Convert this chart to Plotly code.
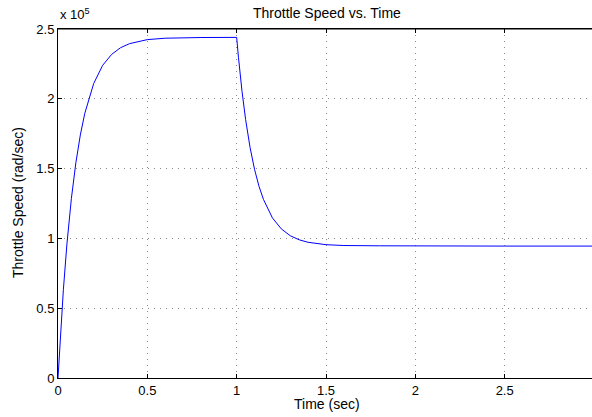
import plotly.graph_objects as go

# Values (time in sec, speed in rad/sec)
time_sec = [0, 0.01, 0.02, 0.03, 0.05, 0.075, 0.1, 0.125, 0.15, 0.2, 0.25, 0.3,
            0.35, 0.4, 0.5, 0.6, 0.8, 1.0,
            1.01, 1.02, 1.03, 1.05, 1.075, 1.1, 1.125, 1.15, 1.2, 1.25, 1.3,
            1.35, 1.4, 1.5, 1.6, 1.8, 2.0, 2.5, 3.0]
speed = [0, 23200, 44200, 63200, 96000, 128700, 154200, 174100, 189600, 211000,
         224000, 231800, 236600, 239500, 242400, 243400, 243900, 244000,
         229800, 216900, 205300, 185200, 165100, 149500, 137300, 127900, 114700,
         106800, 101900, 99000, 97200, 95500, 94900, 94700, 94500, 94500, 94500]

y_tickvals = [0, 50000, 100000, 150000, 200000, 250000]
y_ticktext = ["0", "0.5", "1", "1.5", "2", "2.5"]
x_tickvals = [0, 0.5, 1, 1.5, 2, 2.5, 3]
x_ticktext = ["0", "0.5", "1", "1.5", "2", "2.5", "3"]

W, H = 592, 417
L, R, T, B = 58, 0, 29, 39
x_full_right = 594  # pixel where x=3 would be
x_max = 3 * (W - R - L) / (x_full_right - L)
PW, PH = W - L - R, H - T - B


def px_x(p):
    return (p - L) / PW


def px_y(p):
    return (H - B - p) / PH


font = "Liberation Sans, Arial, Helvetica, sans-serif"

fig = go.Figure()
fig.add_trace(go.Scatter(x=time_sec, y=speed, mode="lines",
                         line=dict(color="#0000ff", width=1), hoverinfo="skip"))

fig.update_layout(
    width=W, height=H,
    margin=dict(l=L, r=R, t=T, b=B, autoexpand=False),
    paper_bgcolor="white", plot_bgcolor="white",
    showlegend=False,
    font=dict(family=font, size=13, color="black"),
    xaxis=dict(range=[0, x_max], tickvals=x_tickvals, ticktext=x_ticktext,
               showline=True, linecolor="black", linewidth=1, mirror="ticks",
               ticks="inside", ticklen=4, tickcolor="black", automargin=False,
               showgrid=True, gridcolor="#8a8a8a", griddash="1px,5px", gridwidth=1,
               zeroline=False, tickfont=dict(size=13)),
    yaxis=dict(range=[0, 250000], tickvals=y_tickvals, ticktext=y_ticktext,
               showline=True, linecolor="black", linewidth=1,
               ticks="inside", ticklen=4, tickcolor="black", automargin=False,
               showgrid=True, gridcolor="#8a8a8a", griddash="1px,5px", gridwidth=1,
               zeroline=False, tickfont=dict(size=13)),
    annotations=[
        dict(text="Throttle Speed vs. Time", xref="paper", yref="paper",
             x=px_x(327), y=px_y(13), xanchor="center", yanchor="middle",
             showarrow=False, font=dict(size=14)),
        dict(text="Time (sec)", xref="paper", yref="paper",
             x=px_x(327), y=px_y(404), xanchor="center", yanchor="middle",
             showarrow=False, font=dict(size=14)),
        dict(text="Throttle Speed (rad/sec)", xref="paper", yref="paper",
             x=px_x(18), y=px_y(203), xanchor="center", yanchor="middle",
             textangle=-90, showarrow=False, font=dict(size=14)),
        dict(text="x 10<sup>5</sup>", xref="paper", yref="paper",
             x=0, y=px_y(24), xanchor="left", yanchor="bottom",
             showarrow=False, font=dict(size=13)),
    ],
    shapes=[
        dict(type="line", xref="paper", yref="paper", x0=0, x1=1, y0=1, y1=1,
             line=dict(color="black", width=1)),
    ],
)

fig.write_html("out.html", config={"displayModeBar": False},
               post_script="document.body.style.margin='0';"
                           "document.body.style.overflow='hidden';")
